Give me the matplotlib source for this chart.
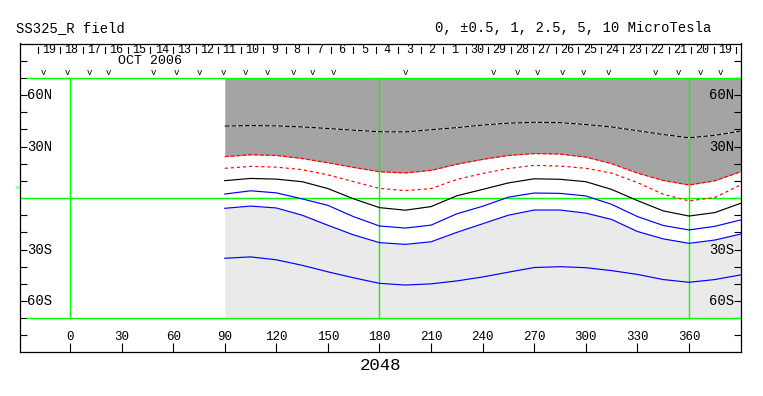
import matplotlib
matplotlib.use("Agg")
import matplotlib.pyplot as plt

plt.rcParams['font.family'] = ['Liberation Mono', 'DejaVu Sans Mono']
plt.rcParams['lines.scale_dashes'] = False

# ---------------- data ----------------
lon = [90, 105, 120, 135, 150, 165, 180, 195, 210, 225, 240, 255, 270, 285,
       300, 315, 330, 345, 360, 375, 390]

# contour lines, top to bottom (latitude in degrees)
line_top_dashed = [41.9, 42.2, 42.0, 41.4, 40.5, 39.5, 38.6, 38.5, 39.8, 41.0, 42.5,
                   43.6, 44.1, 43.9, 42.8, 41.4, 39.2, 37.0, 35.1, 36.5, 39.0]
line_red_1 = [24.1, 25.2, 24.8, 23.0, 20.5, 17.8, 15.3, 14.6, 16.1, 19.7, 22.5,
              24.8, 25.9, 25.6, 23.8, 20.0, 14.5, 10.2, 7.6, 10.0, 15.3]
line_red_2 = [17.3, 18.4, 18.0, 16.5, 13.5, 9.5, 5.6, 4.3, 5.5, 10.8, 14.3,
              17.2, 19.0, 18.6, 17.3, 14.5, 9.0, 2.2, -1.7, 0.3, 7.6]
line_neutral = [10.1, 11.4, 11.0, 9.5, 5.5, -0.5, -5.6, -7.1, -5.0, 1.3, 5.0,
                8.8, 11.2, 10.9, 9.5, 5.0, -1.5, -7.5, -10.5, -8.5, -3.1]
line_blue_1 = [2.3, 4.2, 3.0, -0.5, -4.3, -10.9, -16.3, -17.5, -15.8, -9.2, -4.8,
               0.5, 2.9, 2.7, 1.2, -3.7, -10.8, -16.0, -18.6, -16.5, -12.8]
line_blue_2 = [-6.0, -4.7, -5.8, -10.0, -15.9, -21.5, -26.0, -27.0, -25.5, -20.0, -15.0,
               -10.0, -7.0, -7.0, -8.8, -12.5, -19.5, -23.8, -26.4, -24.5, -21.0]
line_blue_3 = [-35.1, -34.3, -36.0, -39.2, -43.0, -46.5, -49.7, -50.7, -50.0, -48.3, -46.0,
               -43.2, -40.5, -40.0, -40.6, -42.3, -44.5, -47.5, -49.1, -47.5, -44.8]

lon_ticks = [0, 30, 60, 90, 120, 150, 180, 210, 240, 270, 300, 330, 360]
lat_labels = {60: '60N', 30: '30N', -30: '30S', -60: '60S'}
day_labels = ['19', '18', '17', '16', '15', '14', '13', '12', '11', '10', '9', '8',
              '7', '6', '5', '4', '3', '2', '1', '30', '29', '28', '27', '26', '25',
              '24', '23', '22', '21', '20', '19']
day_first_lon = -18.7
deg_per_day = 13.1
v_marks = [-15.7, -1.7, 11.1, 22.1, 48.3, 61.6, 75.0, 89.5, 101.8, 114.6, 129.7,
           140.7, 153.0, 194.8, 246.0, 260.0, 271.6, 286.1, 298.4, 312.9, 340.2,
           353.6, 366.4, 378.0]
rotation_label = '2048'
title_left = 'SS325_R field'
title_right = '0, \u00b10.5, 1, 2.5, 5, 10 MicroTesla'
b0_angle = 5.7

# ---------------- figure ----------------
W, H = 763, 396
fig = plt.figure(figsize=(W / 100, H / 100), dpi=100)
ax = fig.add_axes([20 / W, (H - 352) / H, 721 / W, 308.5 / H])
x0, x1 = -29.08, 390.25
ax.set_xlim(x0, x1)
ax.set_ylim(-89.7, 90)

GREEN = '#00ff00'
LW = 0.85

# shading
ax.fill_between(lon, line_red_1, 70, color='#a4a4a4', lw=0, zorder=1)
ax.fill_between(lon, -70, line_blue_2, color='#eaeaea', lw=0, zorder=1)

# green grid
ax.axhline(0, color=GREEN, lw=1.0, zorder=2)
for yy in (70, -70):
    ax.plot([-25, x1], [yy, yy], color=GREEN, lw=1.0, zorder=2)
for xx in (0, 180, 360):
    ax.plot([xx, xx], [-70, 70], color=GREEN, lw=1.0, zorder=2)

# contour lines
ax.plot(lon, line_top_dashed, color='white', lw=LW, zorder=3)
ax.plot(lon, line_top_dashed, color='black', lw=LW, ls=(0, (3.6, 1.2)), zorder=3.1)
ax.plot(lon, line_red_1, color='red', lw=LW, ls=(0, (3.0, 1.2)), zorder=3)
ax.plot(lon, line_red_2, color='red', lw=LW, ls=(0, (2.2, 2.2)), zorder=3)
ax.plot(lon, line_neutral, color='black', lw=LW, zorder=3)
for ln in (line_blue_1, line_blue_2, line_blue_3):
    ax.plot(lon, ln, color='blue', lw=LW, zorder=3)

# axes styling
for s in ax.spines.values():
    s.set_linewidth(0.9)
ax.set_yticks(range(-80, 81, 10))
ax.tick_params(axis='y', direction='in', length=5, width=0.8, left=True, right=True,
               labelleft=False, labelright=False)
ax.set_xticks(lon_ticks)
ax.tick_params(axis='x', direction='in', length=6.5, width=0.8, top=False,
               bottom=True, labelbottom=False)

# latitude labels
for lat, lab in lat_labels.items():
    ax.text(-25.0, lat, lab, ha='left', va='center', fontsize=10, zorder=5)
    ax.text(386.3, lat, lab, ha='right', va='center', fontsize=10, zorder=5)

# longitude labels
for t in lon_ticks:
    ax.text(t, -81.2, str(t), ha='center', va='center', fontsize=9)
ax.text(180.5, -97.8, rotation_label, ha='center', va='center', fontsize=12.5,
        clip_on=False)

# day scale at top
for k in range(len(day_labels) + 1):
    xx = day_first_lon + k * deg_per_day
    ax.plot([xx, xx], [84.4, 87.9], color='black', lw=0.8, clip_on=False)
for k, lab in enumerate(day_labels):
    xx = day_first_lon + (k + 0.5) * deg_per_day
    ax.text(xx, 86.2, lab, ha='center', va='center', fontsize=8.5)
ax.text(28, 79.8, 'OCT 2006', ha='left', va='center', fontsize=9.5)
for v in v_marks:
    ax.text(v, 73.0, 'v', ha='center', va='center', fontsize=6.5)

# B0 marker
ax.text(-31.1, b0_angle, '>', ha='center', va='center', fontsize=6, color=GREEN,
        clip_on=False)

# titles
fig.text(16 / W, 1 - 28 / H, title_left, ha='left', va='center', fontsize=10)
fig.text(711 / W, 1 - 28 / H, title_right, ha='right', va='center', fontsize=10)

fig.savefig('out.png', dpi=100)
